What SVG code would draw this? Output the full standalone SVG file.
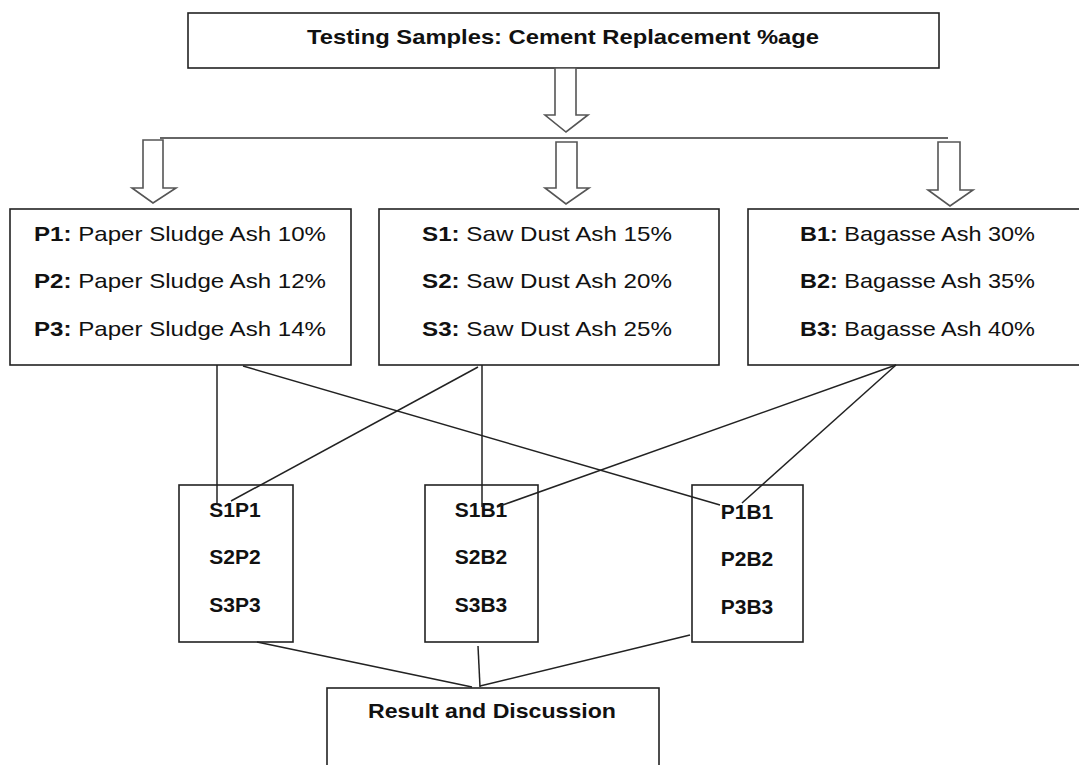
<svg xmlns="http://www.w3.org/2000/svg" width="1079" height="765" viewBox="0 0 1079 765">
<style>
.box{fill:#fff;stroke:#222;stroke-width:1.6}
.blk{fill:#fff;stroke:#555;stroke-width:1.6;stroke-linejoin:miter}
.ln{stroke:#222;stroke-width:1.5;fill:none}
text{font-family:"Liberation Sans",Arial,sans-serif;font-size:21px;fill:#111}
.b{font-weight:bold}
.t{text-anchor:middle}
</style>
<rect width="1079" height="765" fill="#fff"/>
<g id="top">
<rect class="box" x="188" y="13" width="751" height="55"/>
<text class="b t" x="563" y="44" textLength="512" lengthAdjust="spacingAndGlyphs">Testing Samples: Cement Replacement %age</text>
</g>
<g id="arrows">
<polygon class="blk" points="555,68 576,68 576,115 588,115 566,132 545,115 555,115"/>
<line class="ln" x1="160" y1="138" x2="948" y2="138" style="stroke:#333"/>
<polygon class="blk" points="143,140 163,140 163,188 176,188 153,203 132,188 143,188"/>
<polygon class="blk" points="556,142 577,142 577,188 589,188 566,204 545,188 556,188"/>
<polygon class="blk" points="938,142 960,142 960,190 973,190 950,206 928,190 938,190"/>
</g>
<g id="P">
<rect class="box" x="10" y="209" width="341" height="156"/>
<text x="34" y="241" textLength="292" lengthAdjust="spacingAndGlyphs"><tspan class="b">P1:</tspan> Paper Sludge Ash 10%</text>
<text x="34" y="288" textLength="292" lengthAdjust="spacingAndGlyphs"><tspan class="b">P2:</tspan> Paper Sludge Ash 12%</text>
<text x="34" y="336" textLength="292" lengthAdjust="spacingAndGlyphs"><tspan class="b">P3:</tspan> Paper Sludge Ash 14%</text>
</g>
<g id="S">
<rect class="box" x="379" y="209" width="340" height="156"/>
<text x="422" y="241" textLength="250" lengthAdjust="spacingAndGlyphs"><tspan class="b">S1:</tspan> Saw Dust Ash 15%</text>
<text x="422" y="288" textLength="250" lengthAdjust="spacingAndGlyphs"><tspan class="b">S2:</tspan> Saw Dust Ash 20%</text>
<text x="422" y="336" textLength="250" lengthAdjust="spacingAndGlyphs"><tspan class="b">S3:</tspan> Saw Dust Ash 25%</text>
</g>
<g id="B">
<rect class="box" x="748" y="209" width="340" height="156"/>
<text x="800" y="241" textLength="235" lengthAdjust="spacingAndGlyphs"><tspan class="b">B1:</tspan> Bagasse Ash 30%</text>
<text x="800" y="288" textLength="235" lengthAdjust="spacingAndGlyphs"><tspan class="b">B2:</tspan> Bagasse Ash 35%</text>
<text x="800" y="336" textLength="235" lengthAdjust="spacingAndGlyphs"><tspan class="b">B3:</tspan> Bagasse Ash 40%</text>
</g>
<g id="SP">
<rect class="box" x="179" y="485" width="114" height="157"/>
<text class="b t" x="235" y="517">S1P1</text>
<text class="b t" x="235" y="564">S2P2</text>
<text class="b t" x="235" y="612">S3P3</text>
</g>
<g id="SB">
<rect class="box" x="425" y="485" width="113" height="157"/>
<text class="b t" x="481" y="517">S1B1</text>
<text class="b t" x="481" y="564">S2B2</text>
<text class="b t" x="481" y="612">S3B3</text>
</g>
<g id="PB">
<rect class="box" x="692" y="485" width="111" height="157"/>
<text class="b t" x="747" y="519">P1B1</text>
<text class="b t" x="747" y="566">P2B2</text>
<text class="b t" x="747" y="614">P3B3</text>
</g>
<g id="result">
<rect class="box" x="327" y="688" width="332" height="90"/>
<text class="b t" x="492" y="718" textLength="248" lengthAdjust="spacingAndGlyphs">Result and Discussion</text>
</g>
<g id="connectors">
<line class="ln" x1="217" y1="365" x2="217" y2="503"/>
<line class="ln" x1="243" y1="366" x2="720" y2="505"/>
<line class="ln" x1="478" y1="367" x2="231" y2="501"/>
<line class="ln" x1="482" y1="365" x2="482" y2="507"/>
<line class="ln" x1="896" y1="365" x2="497" y2="507"/>
<line class="ln" x1="896" y1="365" x2="742" y2="503"/>
<line class="ln" x1="257" y1="642" x2="472" y2="687"/>
<line class="ln" x1="478" y1="646" x2="480" y2="687"/>
<line class="ln" x1="690" y1="635" x2="480" y2="686"/>
</g>
</svg>
